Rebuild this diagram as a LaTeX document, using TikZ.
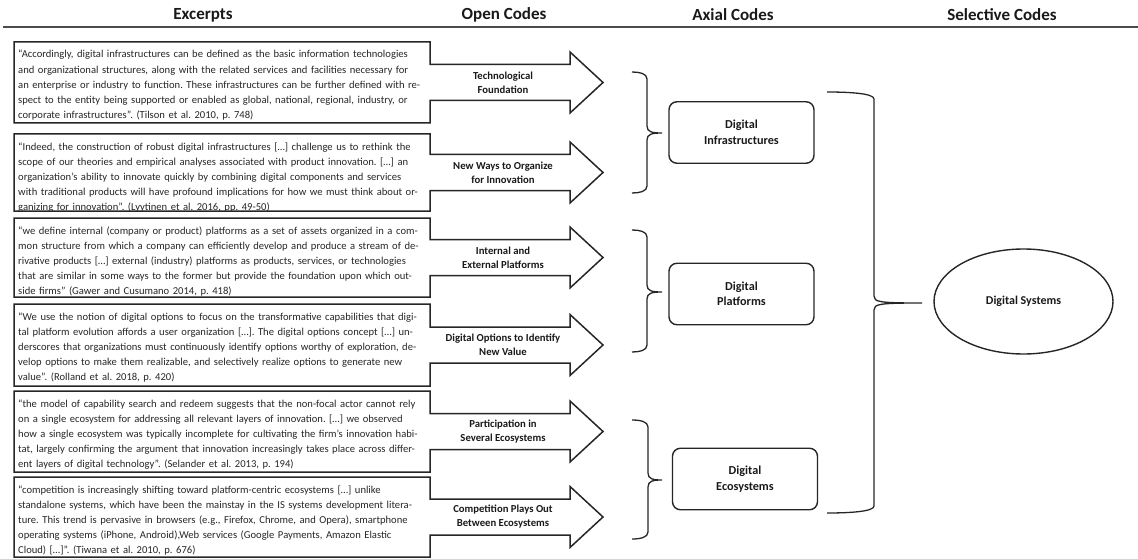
\documentclass[tikz,border=0pt]{standalone}
\usepackage{fontspec}
\setmainfont{Carlito}
\usetikzlibrary{calc,shapes.geometric}
\frenchspacing

% one excerpt box fused with its open-code block arrow
% #1 excerpt node name, #2 open-code node name, #3 top, #4 bottom, #5 open code, #6 excerpt
\newcommand\excerptrow[6]{%
  \pgfmathsetmacro\rowtop{#3}%
  \pgfmathsetmacro\rowbot{#4}%
  \pgfmathsetmacro\rowmid{(#3+#4)/2}%
  \begin{scope}
    \clip (14,\rowtop) rectangle (430,\rowbot);
    \node[exc] (#1) at (18,\rowtop+16) {#6};
  \end{scope}
  \draw[outline] (430,\rowmid-18) -- (430,\rowtop) -- (14,\rowtop) -- (14,\rowbot)
    -- (430,\rowbot) -- (430,\rowmid+18) -- (570,\rowmid+18) -- (570,\rowmid+30.5)
    -- (603,\rowmid) -- (570,\rowmid-30.5) -- (570,\rowmid-18) -- cycle;
  \node[oclabel] (#2) at (503,\rowmid) {#5};
}

% right curly brace: #1 x of ends, #2 x of spine, #3 x of tip, #4 y top, #5 y tip, #6 y bottom
\newcommand\curly[6]{%
  \draw[brace] (#1,#4) .. controls ({(#1+#2)/2},#4) and (#2,#4+1.5) .. (#2,#4+7)
    -- (#2,#5-7) .. controls (#2,#5-1) and (#2+5,#5) .. (#3,#5)
    .. controls (#2+5,#5) and (#2,#5+1) .. (#2,#5+7)
    -- (#2,#6-7) .. controls (#2,#6-1.5) and ({(#1+#2)/2},#6) .. (#1,#6);
}

\begin{document}
\begin{tikzpicture}[x=1pt,y=-1pt,
  outline/.style={draw=black!85, line width=1.5pt, line join=miter},
  exc/.style={anchor=base west, inner sep=0pt, text width=420pt, align=left,
    font=\fontsize{10.6}{15.2}\selectfont, text=black!85},
  oclabel/.style={align=center, inner sep=0pt, text=black!90,
    font=\bfseries\fontsize{10.7}{14}\selectfont},
  axial/.style={draw=black!85, line width=1.4pt, rounded corners=8pt,
    minimum width=145pt, minimum height=61.5pt, align=center, inner sep=0pt,
    text=black!90, font=\bfseries\fontsize{12.2}{15.5}\selectfont},
  brace/.style={draw=black!85, line width=1.3pt},
  head/.style={inner sep=0pt, text=black!90, font=\bfseries\fontsize{17}{19}\selectfont}
]
\useasboundingbox (0,0) rectangle (1138,559);

% column headings
\node[head] (hex) at (203,15) {Excerpts};
\node[head] (hoc) at (504,15) {Open Codes};
\node[head] (hax) at (733,15) {Axial Codes};
\node[head] (hsc) at (1002,15) {Selective Codes};
\draw[draw=black!70, line width=1.8pt] (3,27) -- (1138,27);

% excerpts and open codes
\excerptrow{ex1}{oc1}{42}{123}{Technological\\Foundation}{%
“Accordingly, digital infrastructures can be defined as the basic information technologies\\
and organizational structures, along with the related services and facilities necessary for\\
an enterprise or industry to function. These infrastructures can be further defined with re-\\
spect to the entity being supported or enabled as global, national, regional, industry, or\\
corporate infrastructures”. (Tilson et al. 2010, p. 748)}

\excerptrow{ex2}{oc2}{134}{211}{New Ways to Organize\\for Innovation}{%
“Indeed, the construction of robust digital infrastructures […] challenge us to rethink the\\
scope of our theories and empirical analyses associated with product innovation. […] an\\
organization’s ability to innovate quickly by combining digital components and services\\
with traditional products will have profound implications for how we must think about or-\\
ganizing for innovation”. (Lyytinen et al. 2016, pp. 49-50)}

\excerptrow{ex3}{oc3}{218}{297}{Internal and\\External Platforms}{%
“we define internal (company or product) platforms as a set of assets organized in a com-\\
mon structure from which a company can efficiently develop and produce a stream of de-\\
rivative products […] external (industry) platforms as products, services, or technologies\\
that are similar in some ways to the former but provide the foundation upon which out-\\
side firms” (Gawer and Cusumano 2014, p. 418)}

\excerptrow{ex4}{oc4}{304}{386}{Digital Options to Identify\\New Value}{%
“We use the notion of digital options to focus on the transformative capabilities that digi-\\
tal platform evolution affords a user organization […]. The digital options concept […] un-\\
derscores that organizations must continuously identify options worthy of exploration, de-\\
velop options to make them realizable, and selectively realize options to generate new\\
value”. (Rolland et al. 2018, p. 420)}

\excerptrow{ex5}{oc5}{391}{472}{Participation in\\Several Ecosystems}{%
“the model of capability search and redeem suggests that the non-focal actor cannot rely\\
on a single ecosystem for addressing all relevant layers of innovation. […] we observed\\
how a single ecosystem was typically incomplete for cultivating the firm’s innovation habi-\\
tat, largely confirming the argument that innovation increasingly takes place across differ-\\
ent layers of digital technology”. (Selander et al. 2013, p. 194)}

\excerptrow{ex6}{oc6}{477}{557}{Competition Plays Out\\Between Ecosystems}{%
“competition is increasingly shifting toward platform-centric ecosystems […] unlike\\
standalone systems, which have been the mainstay in the IS systems development litera-\\
ture. This trend is pervasive in browsers (e.g., Firefox, Chrome, and Opera), smartphone\\
operating systems (iPhone, Android),Web services (Google Payments, Amazon Elastic\\
Cloud) […]”. (Tiwana et al. 2010, p. 676)}

% axial codes
\node[axial] (ax1) at (741.5,132.5) {Digital\\Infrastructures};
\node[axial] (ax2) at (741.5,294) {Digital\\Platforms};
\node[axial] (ax3) at (745,479) {Digital\\Ecosystems};

% selective code
\node[draw=black!85, line width=1.4pt, ellipse, minimum width=179pt, minimum height=105pt,
  inner sep=0pt, text=black!90, font=\bfseries\fontsize{12}{14}\selectfont]
  (sel) at (1023.5,301.5) {Digital Systems};

% braces grouping open codes into axial codes, and axial codes into the selective code
\curly{632}{647}{662}{72}{133}{193}
\curly{632}{647}{662}{230}{292}{352}
\curly{632}{648}{662}{420}{480}{539}
\curly{827}{874}{922}{92}{303}{513}
\end{tikzpicture}
\end{document}
